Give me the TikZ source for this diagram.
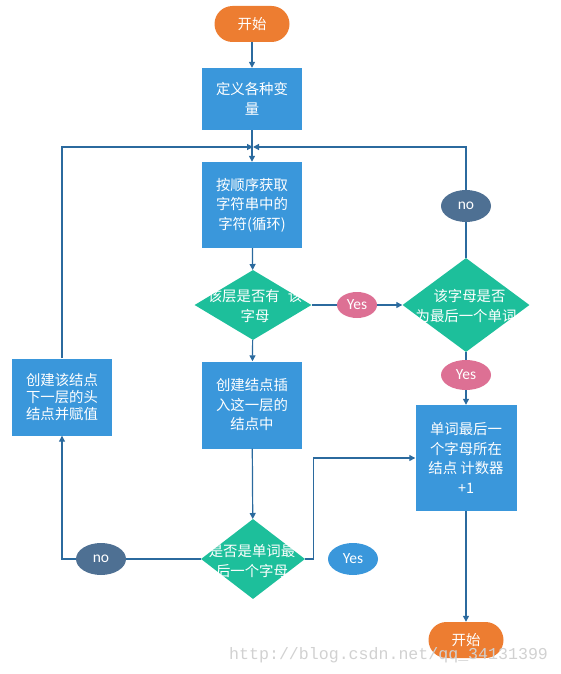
\documentclass[tikz,border=0pt]{standalone}
\usepackage{fontspec}
\setmainfont{Noto Sans CJK SC}
\newfontfamily\latinfont{Carlito}
\newfontfamily\markfont{Liberation Mono}
\usetikzlibrary{shapes.geometric,arrows.meta}

\definecolor{startorange}{HTML}{ED7D31}
\definecolor{boxblue}{HTML}{3A97DB}
\definecolor{testgreen}{HTML}{1DBF9B}
\definecolor{yespink}{HTML}{DD7094}
\definecolor{noslate}{HTML}{4E7093}
\definecolor{flowline}{HTML}{2B6A9E}

\begin{document}
\begin{tikzpicture}[x=1pt,y=-1pt,
	>={Triangle[length=6pt,width=6pt]},
	every node/.style={text=white,font=\fontsize{14.4}{19.5}\selectfont,align=center,inner sep=0pt},
	terminal/.style={fill=startorange,rounded corners=18pt,minimum width=75pt,minimum height=36pt},
	stepbox/.style={fill=boxblue,minimum width=100pt},
	test/.style={diamond,fill=testgreen,aspect=1.4},
	yesmark/.style={ellipse,fill=yespink,font=\latinfont\fontsize{15.5}{17}\selectfont},
	nomark/.style={ellipse,fill=noslate,minimum width=50pt,minimum height=32pt,font=\latinfont\fontsize{15.5}{17}\selectfont},
	flow/.style={draw=flowline,line width=1.2pt}]
	\useasboundingbox (0,0) rectangle (561,674);
	% start and the main column
	\node[terminal] (start) at (252,24) {开始};
	\node[stepbox,minimum height=62pt] (vars) at (252,99) {定义各种变\\量};
	\coordinate (join) at (253,147);
	\node[stepbox,minimum height=86pt] (read) at (252,205) {按顺序获取\\字符串中的\\字符(循环)};
	\node[test,minimum width=117pt,minimum height=70pt] (haschar) at (253,305) {};
	\node at (255,306) {该层是否有\hspace{8pt}该\\字母};
	\node[stepbox,minimum height=87pt] (insert) at (252,405) {创建结点插\\入这一层的\\结点中};
	\node[test,minimum width=104pt,minimum height=80pt] (lastchar) at (253,559) {};
	\node at (252,561) {是否是单词最\\后一个字母};
	% left branch
	\node[nomark] (nodown) at (101,559) {no};
	\node[stepbox,minimum height=77pt,font=\fontsize{14.4}{17}\selectfont] (newhead) at (62,397) {创建该结点\\下一层的头\\结点并赋值};
	% right branch
	\node[yesmark,minimum width=40pt,minimum height=26pt] (yesone) at (357,305) {Yes};
	\node[test,minimum width=127pt,minimum height=94pt] (lastword) at (466,305) {};
	\node at (466,306) {\hspace{7pt}该字母是否\\为最后一个单词};
	\node[nomark] (noright) at (466,206) {no};
	\node[yesmark,minimum width=50pt,minimum height=30pt] (yestwo) at (466,375) {Yes};
	\node[stepbox,minimum width=101pt,minimum height=106pt] (count) at (466,458) {单词最后一\\个字母所在\\结点 计数器\\+1};
	\node[terminal] (stop) at (466,640) {开始};
	\node[ellipse,fill=boxblue,minimum width=50pt,minimum height=32pt,font=\latinfont\fontsize{15.5}{17}\selectfont] (yesfree) at (353,559) {Yes};
	\node[text=black!18,font=\markfont\fontsize{16.6}{17}\selectfont,anchor=west] (mark) at (229,655) {http://blog.csdn.net/qq\_34131399};

	\draw[flow,->] (start) -- (vars);
	\draw[flow,->] (vars) -- (read);
	\draw[flow,->] (read) -- (haschar);
	\draw[flow,->] (haschar) -- (insert);
	\draw[flow,->] (insert) -- (lastchar);
	\draw[flow] (lastchar.west) -- (nodown.east);
	\draw[flow,->] (nodown.west) -| (newhead.south);
	\draw[flow,->] (newhead.north) |- (join);
	\draw[flow] (haschar.east) -- (yesone.west);
	\draw[flow,->] (yesone.east) -- (lastword.west);
	\draw[flow] (lastword.north) -- (noright.south);
	\draw[flow,->] (noright.north) |- (join);
	\draw[flow] (lastword.south) -- (yestwo.north);
	\draw[flow,->] (yestwo.south) -- (count.north);
	\draw[flow,->] (lastchar.east) -- ++(8,0) |- (count.west);
	\draw[flow,->] (count) -- (stop);
\end{tikzpicture}
\end{document}
